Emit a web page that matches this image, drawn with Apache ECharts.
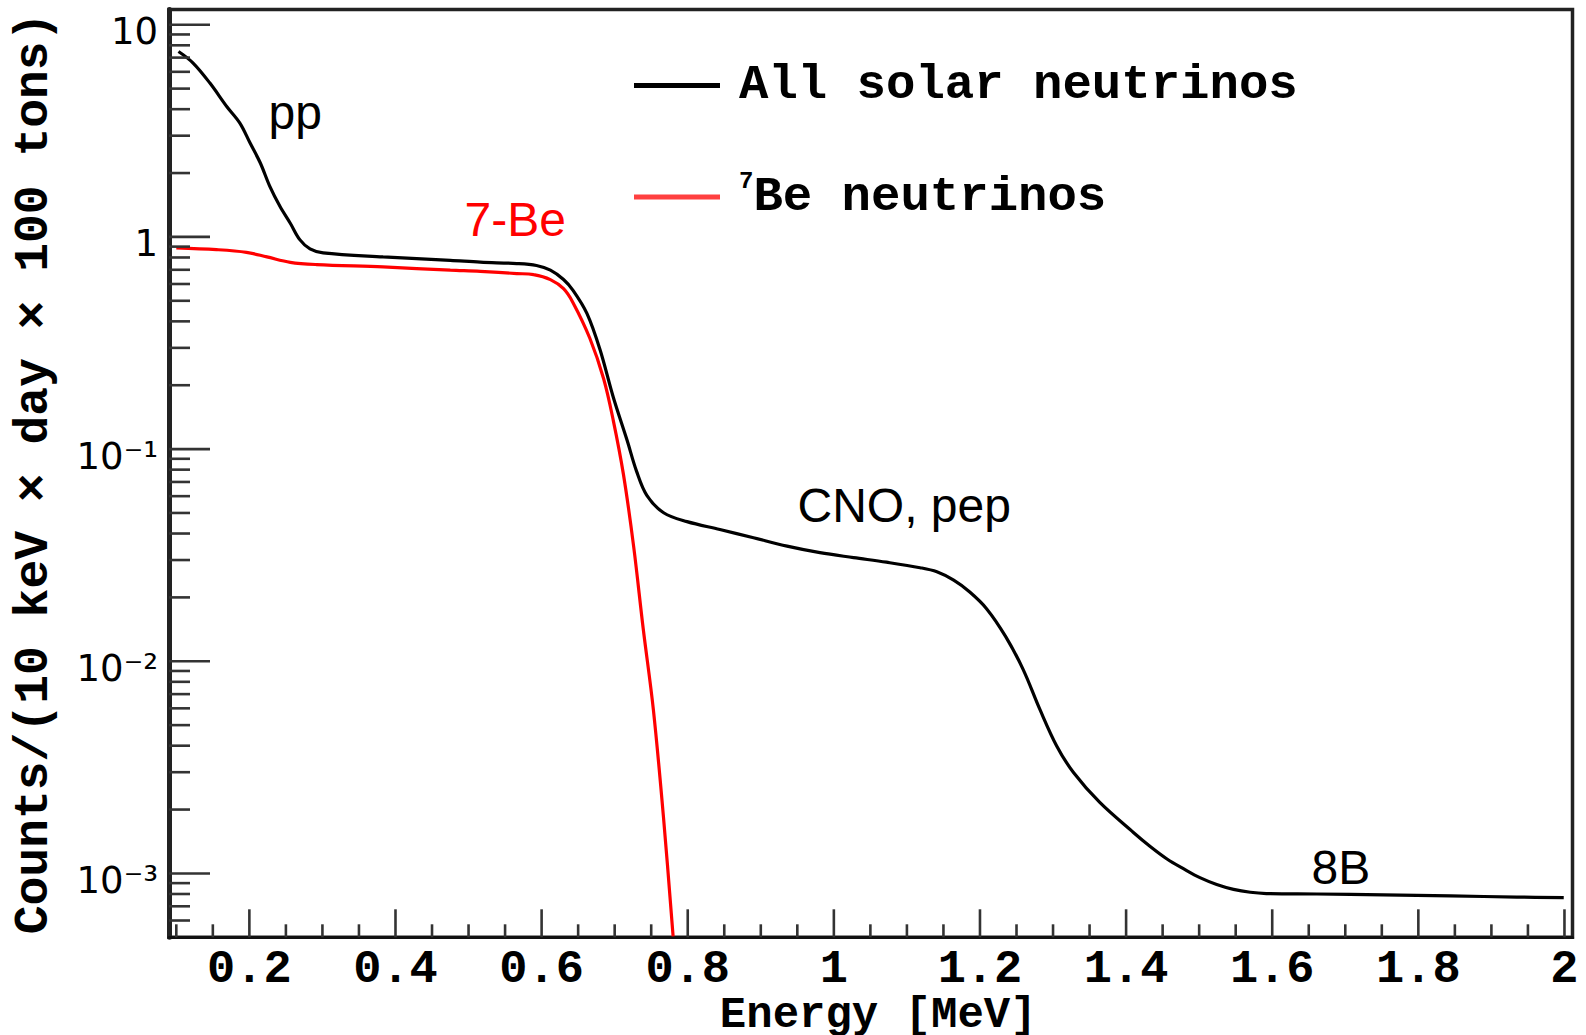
<!DOCTYPE html>
<html>
<head>
<meta charset="utf-8">
<script src="https://cdn.jsdelivr.net/npm/echarts@6/dist/echarts.min.js"></script>
<style>
html,body{margin:0;padding:0;background:#fff;}
#chart{width:1586px;height:1035px;}
</style>
</head>
<body>
<div id="chart"></div>
<script>
// ---- data ----
const allEnergy = [0.103,0.123,0.146,0.169,0.187,0.201,0.215,0.228,0.242,0.256,0.269,0.283,0.301,0.383,0.475,0.516,0.566,0.593,0.612,0.630,0.643,0.662,0.680,0.698,0.717,0.730,0.744,0.767,0.799,0.844,0.890,0.936,0.981,1.027,1.072,1.118,1.141,1.164,1.186,1.209,1.235,1.259,1.282,1.305,1.328,1.364,1.410,1.433,1.456,1.479,1.501,1.524,1.547,1.570,1.592,1.661,1.752,1.844,1.935,1.999];
const allCounts = [7.48,6.6,5.31,4.12,3.44,2.77,2.23,1.73,1.39,1.16,0.971,0.878,0.841,0.805,0.776,0.760,0.749,0.733,0.697,0.630,0.560,0.436,0.294,0.176,0.110,0.0785,0.0605,0.0501,0.0455,0.0418,0.0382,0.0349,0.0325,0.0308,0.0293,0.0276,0.0264,0.0241,0.0212,0.0177,0.0131,0.00916,0.00593,0.00399,0.00299,0.00216,0.00156,0.00134,0.00117,0.00105,0.000955,0.000887,0.000841,0.000815,0.000804,0.000800,0.000792,0.000783,0.000774,0.000769];
const beEnergy = [0.100,0.155,0.196,0.224,0.256,0.292,0.383,0.475,0.516,0.566,0.589,0.612,0.630,0.643,0.666,0.685,0.698,0.712,0.726,0.739,0.753,0.767,0.780];
const beCounts = [0.888,0.871,0.846,0.805,0.759,0.741,0.722,0.697,0.688,0.672,0.664,0.629,0.570,0.490,0.333,0.214,0.137,0.076,0.0347,0.0143,0.0059,0.00181,0.000505];

const seriesNames = ['All solar neutrinos', '\u2077Be neutrinos'];
const annotations = ['pp', '7-Be', 'CNO, pep', '8B'];

const xTickValues = [0.2,0.4,0.6,0.8,1.0,1.2,1.4,1.6,1.8,2.0];
const xTickLabels = ['0.2','0.4','0.6','0.8','1','1.2','1.4','1.6','1.8','2'];
const xMinorTickValues = [0.1,0.15,0.25,0.3,0.35,0.45,0.5,0.55,0.65,0.7,0.75,0.85,0.9,0.95,1.05,1.1,1.15,1.25,1.3,1.35,1.45,1.5,1.55,1.65,1.7,1.75,1.85,1.9,1.95];
const yTickValues = [0.001,0.01,0.1,1,10];
const yTickLabels = ['10\u207B\u00B3','10\u207B\u00B2','10\u207B\u00B9','1','10'];
const yMinorTickValues = [6e-4,7e-4,8e-4,9e-4,0.002,0.003,0.004,0.005,0.006,0.007,0.008,0.009,0.02,0.03,0.04,0.05,0.06,0.07,0.08,0.09,0.2,0.3,0.4,0.5,0.6,0.7,0.8,0.9,2,3,4,5,6,7,8,9];

const X_MIN = 0.09, X_MAX = 2.011, Y_MIN = 5e-4, Y_MAX = 11.8;

// ---- build ----
const allData = allEnergy.map((e, i) => [e, allCounts[i]]);
const beData = beEnergy.map((e, i) => [e, beCounts[i]]);

const tickData = [].concat(
  xTickValues.map(v => [v, Y_MIN, 0]),
  xMinorTickValues.map(v => [v, Y_MIN, 1]),
  yTickValues.map(v => [X_MIN, v, 2]),
  yMinorTickValues.map(v => [X_MIN, v, 3])
);

function lookup(values, labels, v) {
  for (let i = 0; i < values.length; i++) {
    if (Math.abs(values[i] - v) <= Math.abs(values[i]) * 1e-6) return labels[i];
  }
  return '';
}

const mono = '"Liberation Mono", "Courier New", monospace';
const sans = '"Liberation Sans", Arial, Helvetica, sans-serif';

const chart = echarts.init(document.getElementById('chart'), null, {renderer: 'svg'});

const legendCommon = {
  orient: 'horizontal',
  left: 634,
  padding: 0,
  itemWidth: 86,
  itemHeight: 5,
  icon: 'rect',
  selectedMode: false,
  formatter: name => name.replace('\u2077', '{sup|7}'),
  textStyle: {
    fontFamily: mono, fontWeight: 'bold', fontSize: 49, color: '#000',
    lineHeight: 56, padding: [0, 0, 0, 14],
    rich: {
      sup: {fontFamily: mono, fontWeight: 'bold', fontSize: 24, lineHeight: 40, verticalAlign: 'top', color: '#000'}
    }
  }
};

chart.setOption({
  animation: false,
  backgroundColor: '#fff',
  grid: {
    left: 169, right: 13.5, top: 9.5, bottom: 97.7,
    show: true, borderColor: '#222', borderWidth: 3.5,
    containLabel: false, outerBoundsMode: 'none'
  },
  legend: [
    Object.assign({}, legendCommon, {data: [{name: seriesNames[0], itemStyle: {color: '#000'}}], top: 57.4}),
    Object.assign({}, legendCommon, {data: [{name: seriesNames[1], itemStyle: {color: '#ff4040'}}], top: 169})
  ],
  xAxis: {
    type: 'value', min: X_MIN, max: X_MAX, splitNumber: 10,
    axisLine: {show: true, onZero: false, lineStyle: {color: '#111', width: 3}},
    axisTick: {show: false}, minorTick: {show: false}, splitLine: {show: false},
    axisLabel: {
      formatter: v => lookup(xTickValues, xTickLabels, v),
      fontFamily: mono, fontWeight: 'bold', fontSize: 47, color: '#000', margin: 9
    },
    name: 'Energy [MeV]', nameLocation: 'middle', nameGap: 63, nameMoveOverlap: false,
    nameTextStyle: {fontFamily: mono, fontWeight: 'bold', fontSize: 44, lineHeight: 30, color: '#000', padding: [0, 0, 0, 15]}
  },
  yAxis: {
    type: 'log', logBase: 10, min: Y_MIN, max: Y_MAX,
    axisLine: {show: true, onZero: false, lineStyle: {color: '#222', width: 5}},
    axisTick: {show: false}, minorTick: {show: false}, splitLine: {show: false}, minorSplitLine: {show: false},
    axisLabel: {
      formatter: v => lookup(yTickValues, yTickLabels, v),
      fontFamily: '"DejaVu Sans", sans-serif', fontSize: 37, color: '#000', margin: 11,
      verticalAlign: 'top', lineHeight: 14
    },
    name: 'Counts/(10 keV \u00D7 day \u00D7 100 tons)', nameLocation: 'middle', nameGap: 111, nameMoveOverlap: false,
    nameTextStyle: {fontFamily: mono, fontWeight: 'bold', fontSize: 48, color: '#000'}
  },
  series: [
    {
      name: seriesNames[0], type: 'line', data: allData, symbol: 'none',
      smooth: 0.35, clip: true,
      lineStyle: {color: '#000', width: 3.2}, itemStyle: {color: '#000'}, z: 3
    },
    {
      name: seriesNames[1], type: 'line', data: beData, symbol: 'none',
      smooth: 0.35, clip: true,
      lineStyle: {color: '#ff0000', width: 3.2}, itemStyle: {color: '#ff0000'}, z: 4
    },
    {
      name: 'ticks', type: 'custom', data: tickData, silent: true, clip: false, z: 5,
      renderItem: (params, api) => {
        const kind = api.value(2);
        const p = api.coord([api.value(0), api.value(1)]);
        const lens = [28, 13, 41, 21];
        const len = lens[kind];
        const shape = kind < 2
          ? {x1: p[0], y1: p[1], x2: p[0], y2: p[1] - len}
          : {x1: p[0], y1: p[1], x2: p[0] + len, y2: p[1]};
        return {type: 'line', shape: shape, style: {stroke: '#333', lineWidth: 2.6}};
      }
    }
  ],
  graphic: [
    {type: 'text', style: {text: annotations[0], x: 268.5, y: 112.5, align: 'left', verticalAlign: 'middle', font: '48px ' + sans, fill: '#000'}},
    {type: 'text', style: {text: annotations[1], x: 464.5, y: 219, align: 'left', verticalAlign: 'middle', font: '48px ' + sans, fill: '#ff0000'}},
    {type: 'text', style: {text: annotations[2], x: 797.5, y: 505.5, align: 'left', verticalAlign: 'middle', font: '48px ' + sans, fill: '#000'}},
    {type: 'text', style: {text: annotations[3], x: 1311.5, y: 867, align: 'left', verticalAlign: 'middle', font: '48px ' + sans, fill: '#000'}}
  ]
});
</script>
</body>
</html>
